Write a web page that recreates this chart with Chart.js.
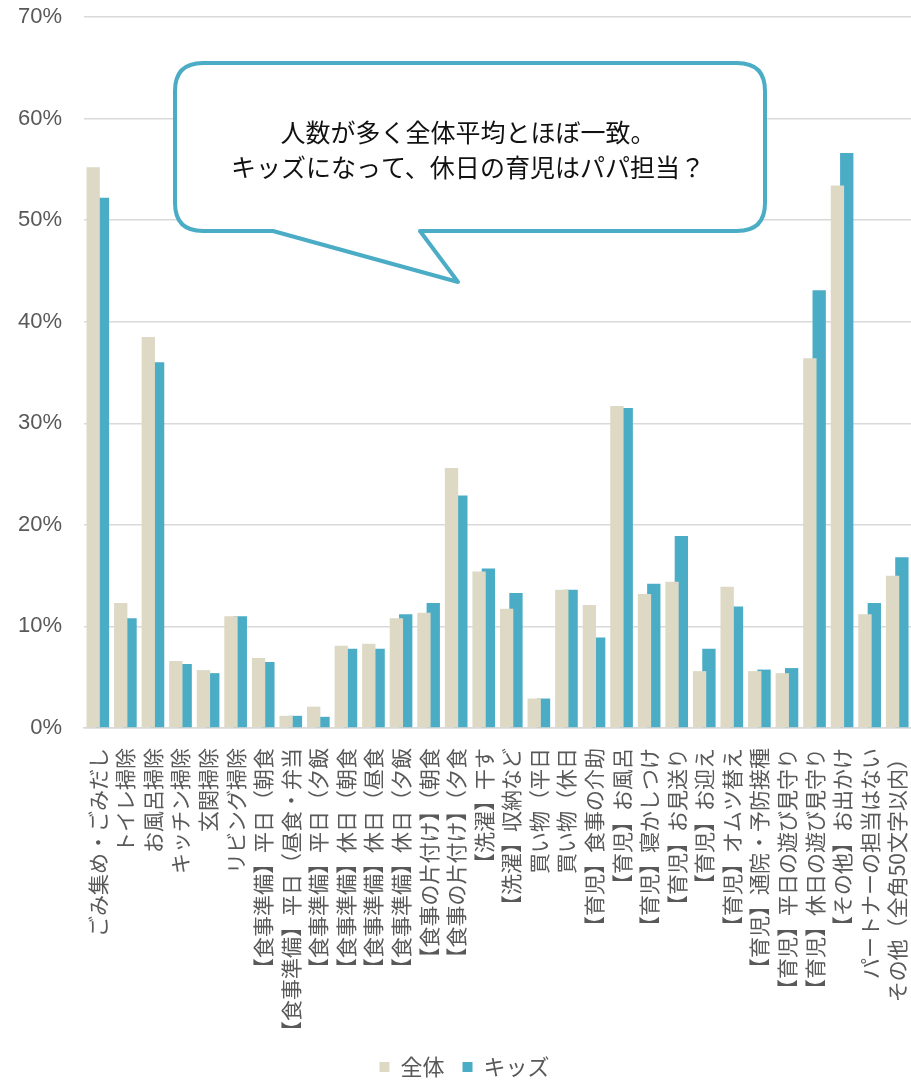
<!DOCTYPE html>
<html lang="ja">
<head>
<meta charset="utf-8">
<script src="https://cdn.jsdelivr.net/npm/chart.js@4.4.1/dist/chart.umd.min.js"></script>
<style>
  html, body { margin: 0; padding: 0; background: #fff; }
  #wrap { width: 911px; height: 1080px; position: relative; }
</style>
</head>
<body>
<div id="wrap"><canvas id="myChart"></canvas></div>
<script>
// data
const categories = [
  'ごみ集め・ごみだし', 'トイレ掃除', 'お風呂掃除', 'キッチン掃除', '玄関掃除', 'リビング掃除',
  '【食事準備】平日（朝食', '【食事準備】平日（昼食・弁当', '【食事準備】平日（夕飯',
  '【食事準備】休日（朝食', '【食事準備】休日（昼食', '【食事準備】休日（夕飯',
  '【食事の片付け】（朝食', '【食事の片付け】（夕食', '【洗濯】干す', '【洗濯】収納など',
  '買い物（平日', '買い物（休日', '【育児】食事の介助', '【育児】お風呂', '【育児】寝かしつけ',
  '【育児】お見送り', '【育児】お迎え', '【育児】オムツ替え', '【育児】通院・予防接種',
  '【育児】平日の遊び見守り', '【育児】休日の遊び見守り', '【その他】お出かけ',
  'パートナーの担当はない', 'その他（全角50文字以内）'
];
const zentai = [55.2, 12.3, 38.5, 6.6, 5.7, 11.0, 6.9, 1.2, 2.1, 8.1, 8.3, 10.8, 11.35, 25.6, 15.4,
  11.75, 2.9, 13.6, 12.1, 31.7, 13.2, 14.4, 5.6, 13.9, 5.6, 5.4, 36.4, 53.4, 11.2, 15.0];
const kids = [52.2, 10.8, 36.0, 6.3, 5.4, 11.0, 6.5, 1.2, 1.1, 7.8, 7.8, 11.2, 12.3, 22.9, 15.7,
  13.3, 2.9, 13.6, 8.9, 31.5, 14.2, 18.9, 7.8, 11.95, 5.75, 5.9, 43.1, 56.6, 12.3, 16.8];
const yTicks = [0, 10, 20, 30, 40, 50, 60, 70];
const seriesNames = ['全体', 'キッズ'];
const calloutLines = ['人数が多く全体平均とほぼ一致。', 'キッズになって、休日の育児はパパ担当？'];

const gray = '#595959';
const jpFont = "'Noto Sans CJK JP', 'Noto Sans', sans-serif";

// speech bubble drawn on top of the chart
const calloutPlugin = {
  id: 'callout',
  afterDraw(chart) {
    const c = chart.ctx;
    const x0 = 175, x1 = 765, y0 = 63, y1 = 231, r = 28;
    c.save();
    c.beginPath();
    c.moveTo(x0 + r, y0);
    c.lineTo(x1 - r, y0);
    c.quadraticCurveTo(x1, y0, x1, y0 + r);
    c.lineTo(x1, y1 - r);
    c.quadraticCurveTo(x1, y1, x1 - r, y1);
    c.lineTo(420, y1);
    c.lineTo(458, 282);
    c.lineTo(273, y1);
    c.lineTo(x0 + r, y1);
    c.quadraticCurveTo(x0, y1, x0, y1 - r);
    c.lineTo(x0, y0 + r);
    c.quadraticCurveTo(x0, y0, x0 + r, y0);
    c.closePath();
    c.fillStyle = '#fff';
    c.fill();
    c.lineWidth = 4;
    c.lineJoin = 'round';
    c.strokeStyle = '#4bacc6';
    c.stroke();
    c.fillStyle = '#111';
    c.font = '25px ' + jpFont;
    c.textAlign = 'center';
    c.textBaseline = 'middle';
    c.fillText(calloutLines[0], 468, 132);
    c.fillText(calloutLines[1], 468, 167);
    c.restore();
  }
};

// drop the extra space chart.js reserves for the rotated end labels
const noEdgePadding = (scale) => {
  scale.paddingLeft = 0;
  scale.paddingRight = 0;
  scale.paddingTop = 0;
  scale.paddingBottom = 0;
};

const ctx = document.getElementById('myChart');

new Chart(ctx, {
  type: 'bar',
  data: {
    labels: categories,
    datasets: [{
      label: seriesNames[0],
      data: zentai,
      backgroundColor: '#ddd9c4',
      categoryPercentage: 0.676,
      barPercentage: 1.43
    }, {
      label: seriesNames[1],
      data: kids,
      backgroundColor: '#4bacc6',
      categoryPercentage: 0.676,
      barPercentage: 1.43
    }]
  },
  options: {
    responsive: true,
    maintainAspectRatio: false,
    animation: false,
    layout: {
      padding: { top: 17, left: 18, right: 0, bottom: -8 }
    },
    plugins: {
      legend: {
        position: 'bottom',
        labels: {
          boxWidth: 10,
          boxHeight: 10,
          padding: 18,
          color: gray,
          font: { family: jpFont, size: 22 }
        }
      },
      tooltip: { enabled: false }
    },
    scales: {
      y: {
        min: 0,
        max: 70,
        afterBuildTicks(axis) {
          axis.ticks = yTicks.map(v => ({ value: v }));
        },
        afterFit(scale) {
          noEdgePadding(scale);
          // chart.js counts the tick padding twice
          scale.width -= scale.options.ticks.padding;
        },
        ticks: {
          padding: 22,
          color: gray,
          font: { family: "'Liberation Sans', Arial, sans-serif", size: 22 },
          callback: v => v + '%'
        },
        grid: { color: '#d9d9d9', lineWidth: 1.5, drawTicks: false },
        border: { display: false }
      },
      x: {
        afterFit(scale) {
          noEdgePadding(scale);
          scale.height -= 16;
        },
        ticks: {
          autoSkip: false,
          minRotation: 90,
          maxRotation: 90,
          padding: 12,
          color: gray,
          font: { family: jpFont, size: 21 }
        },
        grid: { display: false },
        border: { color: '#d9d9d9', width: 1.5 }
      }
    }
  },
  plugins: [calloutPlugin]
});
</script>
</body>
</html>
